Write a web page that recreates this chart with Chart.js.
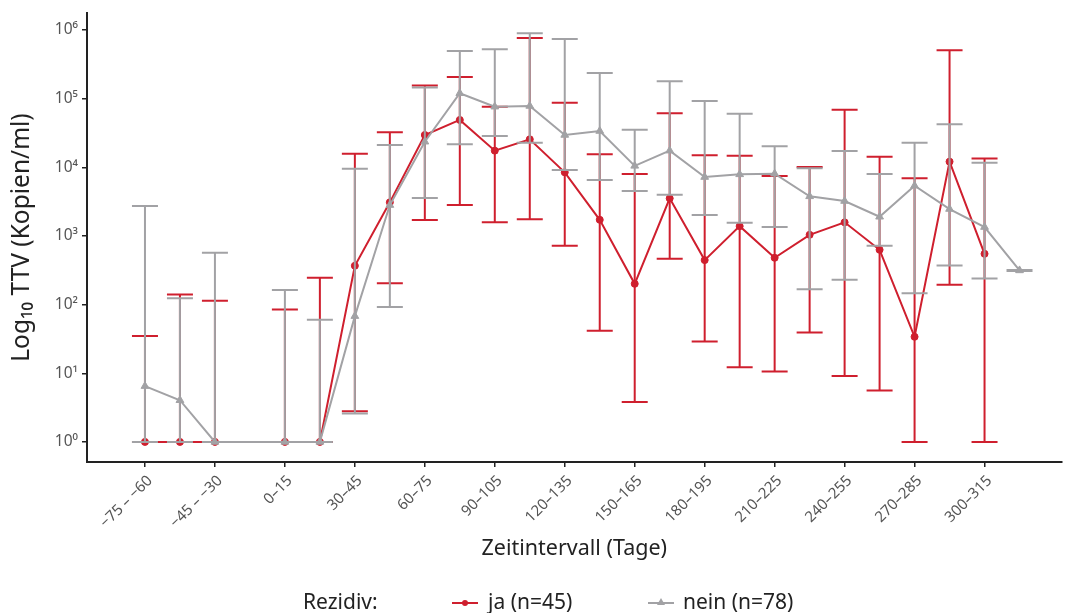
<!DOCTYPE html>
<html>
<head>
<meta charset="utf-8">
<script src="https://cdn.jsdelivr.net/npm/chart.js@4.4.1/dist/chart.umd.min.js"></script>
<style>
    html, body { margin: 0; padding: 0; background: #fff; }
    #wrap { position: relative; width: 1067px; height: 613px; font-family: "Noto Sans", sans-serif; }
    #legend { position: absolute; left: 0; top: 588px; width: 1067px; height: 26px; font-size: 21px; line-height: 26px; color: #222; }
    #legend span, #legend i { position: absolute; }
    .mline { top: 14px; width: 26px; height: 2px; }
    .dot { top: 12px; width: 6px; height: 6px; border-radius: 50%; }
    .tri { top: 10px; width: 0; height: 0; border-left: 4px solid transparent; border-right: 4px solid transparent; border-bottom: 7px solid #a2a2a5; }
</style>
</head>
<body>
<div id="wrap">
    <canvas id="ttvChart" width="1067" height="613"></canvas>
    <div id="legend">
        <span style="left:303px">Rezidiv:</span>
        <i class="mline" style="left:452px;background:#cf1f2e"></i>
        <i class="dot" style="left:462px;background:#cf1f2e"></i>
        <span style="left:488px">ja (n=45)</span>
        <i class="mline" style="left:648px;background:#a2a2a5"></i>
        <i class="tri" style="left:657px"></i>
        <span style="left:683px">nein (n=78)</span>
    </div>
</div>
<script>
// Zeitintervalle (Tage), jede zweite wird beschriftet
const categories = ["−75 – −60", "−60 – −45", "−45 – −30", "−30 – −15", "0–15", "15–30", "30–45", "45–60",
    "60–75", "75–90", "90–105", "105–120", "120–135", "135–150", "150–165", "165–180", "180–195",
    "195–210", "210–225", "225–240", "240–255", "255–270", "270–285", "285–300", "300–315", "315–330"];
const xTickIndex = [0, 2, 4, 6, 8, 10, 12, 14, 16, 18, 20, 22, 24];
const yTicks = [1, 10, 100, 1000, 10000, 100000, 1000000];

// Rezidiv: ja (n=45)
const jaMean = [1, 1, 1, null, 1, 1, 368, 3090, 29600, 49000, 17500, 25600, 8450, 1720, 201, 3530,
    445, 1390, 481, 1040, 1580, 629, 34, 12100, 550, null];
const jaLower = [1, 1, 1, null, 1, 1, 2.8, 204, 1710, 2820, 1580, 1750, 720, 41.5, 3.8, 465,
    29, 12.2, 10.6, 39.3, 9.1, 5.6, 1, 194, 1, null];
const jaUpper = [35, 141, 114, null, 85, 246, 15800, 32400, 155000, 207000, 76400, 767000, 87500, 15500, 7980, 61200,
    15000, 14800, 7470, 10100, 69100, 14300, 6920, 508000, 13400, null];

// Rezidiv: nein (n=78)
const neinMean = [6.5, 4.05, 1, null, 1, 1, 68, 2820, 23600, 120000, 76400, 78300, 29600, 33800, 10500, 17500,
    7220, 7900, 8070, 3780, 3230, 1905, 5400, 2470, 1349, 315];
const neinLower = [1, 1, 1, null, 1, 1, 2.6, 92, 3570, 21600, 28600, 22800, 9130, 6530, 4520, 3990,
    2020, 1557, 1349, 168, 230, 720, 147, 373, 241, 310];
const neinUpper = [2730, 124, 569, null, 163, 60, 9550, 21100, 146000, 496000, 525000, 898000, 742000, 237000, 35300, 179000,
    92500, 60400, 20200, 9670, 17300, 7980, 22800, 42400, 11700, 320];

const RED = '#cf1f2e';
const GREY = '#a2a2a5';
const SUP = ['⁰', '¹', '²', '³', '⁴', '⁵', '⁶'];

function toPoints(values) {
    return values.map((v, i) => ({ x: i, y: v })).filter(p => p.y !== null);
}

// Fehlerbalken pro Datensatz direkt vor der Linie zeichnen
const errorBars = {
    id: 'errorBars',
    beforeDatasetDraw(chart, args) {
        const ds = chart.data.datasets[args.index];
        const xs = chart.scales.x;
        const ys = chart.scales.y;
        const ctx = chart.ctx;
        ctx.save();
        ctx.strokeStyle = ds.borderColor;
        ctx.lineWidth = 2;
        ds.errLow.forEach((lo, i) => {
            const hi = ds.errHigh[i];
            if (lo === null || hi === null) return;
            const px = xs.getPixelForValue(i);
            const y1 = ys.getPixelForValue(lo);
            const y2 = ys.getPixelForValue(hi);
            ctx.beginPath();
            ctx.moveTo(px, y1); ctx.lineTo(px, y2);
            ctx.moveTo(px - 13, y1); ctx.lineTo(px + 13, y1);
            ctx.moveTo(px - 13, y2); ctx.lineTo(px + 13, y2);
            ctx.stroke();
        });
        ctx.restore();
    }
};

const axisGrid = { display: true, drawOnChartArea: false, drawTicks: true, tickLength: 5, color: '#222', lineWidth: 1.5 };
const axisBorder = { display: true, color: '#222', width: 2 };

new Chart(document.getElementById('ttvChart'), {
    type: 'line',
    data: {
        datasets: [
            {
                label: 'ja (n=45)',
                data: toPoints(jaMean),
                errLow: jaLower,
                errHigh: jaUpper,
                borderColor: RED,
                backgroundColor: RED,
                pointBackgroundColor: RED,
                pointStyle: 'circle',
                pointRadius: 3.5,
                pointBorderWidth: 1,
                borderWidth: 2,
                spanGaps: true,
                tension: 0,
                order: 2
            },
            {
                label: 'nein (n=78)',
                data: toPoints(neinMean),
                errLow: neinLower,
                errHigh: neinUpper,
                borderColor: GREY,
                backgroundColor: GREY,
                pointBackgroundColor: GREY,
                pointStyle: 'triangle',
                pointRadius: 4.5,
                pointBorderWidth: 1,
                borderWidth: 2,
                spanGaps: true,
                tension: 0,
                order: 1
            }
        ]
    },
    options: {
        responsive: false,
        animation: false,
        layout: { padding: { top: 13, right: 5, bottom: 50, left: 0 } },
        plugins: {
            legend: { display: false },
            tooltip: { enabled: false }
        },
        scales: {
            x: {
                type: 'linear',
                min: -1.657,
                max: 26.2,
                afterBuildTicks(scale) {
                    scale.ticks = xTickIndex.map(v => ({ value: v }));
                },
                afterFit(scale) {
                    scale.height = 101;
                    scale.paddingLeft = 0;
                    scale.paddingRight = 0;
                },
                ticks: {
                    autoSkip: false,
                    minRotation: 45,
                    maxRotation: 45,
                    padding: 5,
                    labelOffset: 5,
                    color: '#555',
                    font: { family: 'Noto Sans', size: 15 },
                    callback: v => categories[v]
                },
                grid: axisGrid,
                border: axisBorder,
                title: {
                    display: true,
                    text: 'Zeitintervall (Tage)',
                    color: '#222',
                    font: { family: 'Noto Sans', size: 21.5 },
                    padding: { top: 0, bottom: 1 }
                }
            },
            y: {
                type: 'logarithmic',
                min: 0.51,
                max: 1770000,
                afterBuildTicks(scale) {
                    scale.ticks = yTicks.map(v => ({ value: v }));
                },
                afterFit(scale) {
                    scale.width = 87;
                    scale.paddingTop = 0;
                    scale.paddingBottom = 0;
                },
                ticks: {
                    padding: 4,
                    color: '#555',
                    font: { family: 'Noto Sans', size: 15.5 },
                    callback: v => '10' + SUP[Math.round(Math.log10(v))]
                },
                grid: axisGrid,
                border: axisBorder,
                title: {
                    display: true,
                    text: 'Log₁₀ TTV (Kopien/ml)',
                    color: '#222',
                    font: { family: 'Noto Sans', size: 24.5 },
                    padding: { top: 7, bottom: 0 }
                }
            }
        }
    },
    plugins: [errorBars]
});
</script>
</body>
</html>
